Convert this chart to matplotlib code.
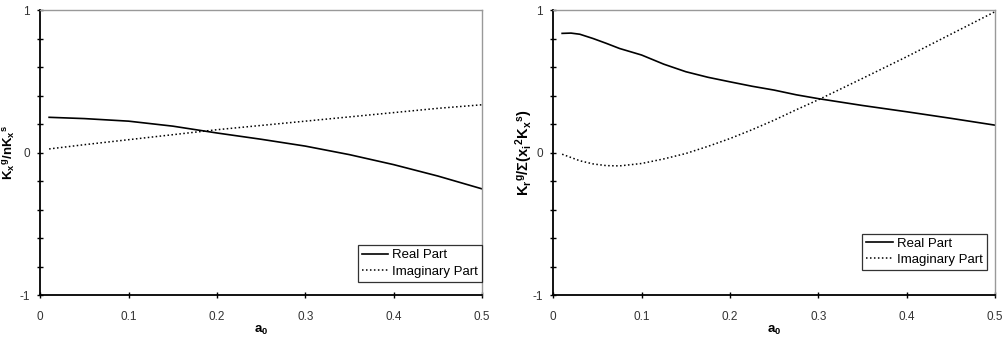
import matplotlib
matplotlib.use('Agg')
import matplotlib.pyplot as plt

plt.rcParams['font.family'] = ['Liberation Sans', 'DejaVu Sans']
plt.rcParams['mathtext.fontset'] = 'custom'
plt.rcParams['mathtext.rm'] = 'Liberation Sans'
plt.rcParams['mathtext.it'] = 'Liberation Sans'
plt.rcParams['mathtext.bf'] = 'Liberation Sans:bold'

# left panel: K_x^g / n K_x^s
a0_left = [0.01, 0.05, 0.1, 0.15, 0.2, 0.25, 0.3, 0.35, 0.4, 0.45, 0.5]
real_left = [0.247, 0.238, 0.22, 0.185, 0.137, 0.093, 0.045, -0.015, -0.085, -0.165, -0.255]
imag_left = [0.025, 0.055, 0.09, 0.125, 0.16, 0.19, 0.22, 0.25, 0.28, 0.31, 0.335]

# right panel: K_r^g / sum(x_i^2 K_x^s)
a0_right = [0.01, 0.02, 0.03, 0.045, 0.06, 0.075, 0.1, 0.125, 0.15, 0.175, 0.2,
            0.225, 0.25, 0.275, 0.3, 0.35, 0.4, 0.45, 0.5]
real_right = [0.836, 0.838, 0.83, 0.80, 0.766, 0.73, 0.684, 0.62, 0.567, 0.528, 0.496,
              0.465, 0.438, 0.405, 0.378, 0.33, 0.286, 0.24, 0.192]
imag_right = [-0.012, -0.035, -0.058, -0.08, -0.092, -0.094, -0.077, -0.045, -0.007, 0.043, 0.098,
              0.16, 0.227, 0.30, 0.37, 0.52, 0.672, 0.83, 0.988]

ylabels = [r'$\mathbf{K_x{}^g/nK_x{}^s}$', r'$\mathbf{K_r{}^g/\Sigma(x_i{}^2K_x{}^s)}$']
ylabel_size = [9.5, 10.5]
ylabel_x = [-0.05, -0.041]
legend_pos = [(1.0, 0.047), (0.981, 0.088)]

fig = plt.figure(figsize=(10.02, 3.37), dpi=100)
ax1 = fig.add_axes([0.0402, 0.1246, 0.4408, 0.8457])
ax2 = fig.add_axes([0.5522, 0.1246, 0.4408, 0.8457])

data = [(a0_left, real_left, imag_left), (a0_right, real_right, imag_right)]
for i, ax in enumerate([ax1, ax2]):
    x, re, im = data[i]
    ax.plot(x, re, color='black', lw=1.2, label='Real Part')
    ax.plot(x, im, color='black', lw=1.1, linestyle=(0, (1, 1.6)), label='Imaginary Part')
    ax.set_xlim(0, 0.5)
    ax.set_ylim(-1, 1)
    ax.set_xticks([0, 0.1, 0.2, 0.3, 0.4, 0.5])
    ax.set_xticklabels(['0', '0.1', '0.2', '0.3', '0.4', '0.5'])
    yt = [-1, -0.8, -0.6, -0.4, -0.2, 0, 0.2, 0.4, 0.6, 0.8, 1]
    ax.set_yticks(yt)
    ax.set_yticklabels(['-1', '', '', '', '', '0', '', '', '', '', '1'])
    ax.tick_params(direction='inout', length=5, width=1, labelsize=8.5, colors='black',
                   labelcolor='#333333')
    ax.tick_params(axis='x', pad=9)
    ax.tick_params(axis='y', pad=5)
    for s in ['left', 'bottom']:
        ax.spines[s].set_linewidth(1.3)
        ax.spines[s].set_color('black')
    for s in ['top', 'right']:
        ax.spines[s].set_linewidth(1.0)
        ax.spines[s].set_color('#999999')
    ax.set_xlabel(r'$\mathbf{a_0}$', fontsize=9.5, labelpad=1)
    ax.set_ylabel(ylabels[i], fontsize=ylabel_size[i])
    ax.yaxis.set_label_coords(ylabel_x[i], 0.5)
    leg = ax.legend(loc='lower right', bbox_to_anchor=legend_pos[i], borderaxespad=0, fontsize=9.5,
                    frameon=True, fancybox=False, edgecolor='black', handlelength=2.0,
                    handletextpad=0.3, borderpad=0.3, labelspacing=0.3)
    leg.get_frame().set_linewidth(0.9)

fig.savefig('out.png', dpi=100)
